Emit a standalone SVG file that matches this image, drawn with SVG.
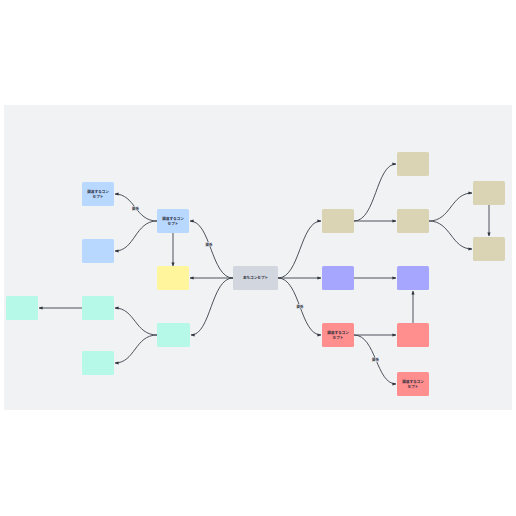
<svg xmlns="http://www.w3.org/2000/svg" width="516" height="516" viewBox="0 0 516 516">
<defs>
<marker id="ah" viewBox="0 0 10 10" refX="9" refY="5" markerWidth="4" markerHeight="4" orient="auto" markerUnits="userSpaceOnUse">
<path d="M0,1 L10,5 L0,9 Z" fill="#2d333d"/>
</marker>
<style>
.n{rx:1.5;}
.t{font-family:"Noto Sans CJK JP","Noto Sans",sans-serif;font-size:3.6px;fill:#1f2937;text-anchor:middle;font-weight:bold;}
.c{fill:none;stroke:#3a404a;stroke-width:0.9;marker-end:url(#ah);}
.lb{fill:#f1f2f4;}
.lt{font-family:"Noto Sans CJK JP","Noto Sans",sans-serif;font-size:3.4px;fill:#1f2937;text-anchor:middle;font-weight:bold;}
.blue{fill:#b9d8ff;}
.yel{fill:#fff59d;}
.cy{fill:#b6f9e9;}
.tan{fill:#dad4b5;}
.pur{fill:#a7a6ff;}
.red{fill:#ff8e8e;}
.gray{fill:#d2d6de;}
</style>
</defs>
<rect x="0" y="0" width="516" height="516" fill="#ffffff"/>
<rect x="4" y="105" width="508" height="305" fill="#f1f2f4"/>
<g id="connectors">
<path class="c" d="M233,278 L190,278"/>
<path class="c" d="M233,278 C211,278 211,221 190,221"/>
<path class="c" d="M233,278 C211,278 211,335 191,335"/>
<path class="c" d="M173,233 L173,266"/>
<path class="c" d="M157,221 C135,221 135,194 115,194"/>
<path class="c" d="M157,221 C135,221 135,251 115,251"/>
<path class="c" d="M157,335 C135,335 135,308 115,308"/>
<path class="c" d="M157,335 C135,335 135,363 115,363"/>
<path class="c" d="M82,308 L39,308"/>
<path class="c" d="M278,278 C300,278 300,221 321,221"/>
<path class="c" d="M278,278 L321,278"/>
<path class="c" d="M278,278 C300,278 300,335 321,335"/>
<path class="c" d="M354,221 C376,221 376,164 396,164"/>
<path class="c" d="M354,221 L396,221"/>
<path class="c" d="M429,221 C451,221 451,193 472,193"/>
<path class="c" d="M429,221 C451,221 451,249 472,249"/>
<path class="c" d="M489,205 L489,236"/>
<path class="c" d="M354,278 L396,278"/>
<path class="c" d="M413,323 L413,291"/>
<path class="c" d="M354,335 L396,335"/>
<path class="c" d="M354,335 C376,335 376,384 396,384"/>
<g id="edge-labels">
<rect class="lb" x="131.5" y="206" width="8" height="4.5"/>
<text class="lt" x="135.5" y="209.5">関係</text>
<rect class="lb" x="205" y="242" width="8" height="4.5"/>
<text class="lt" x="209" y="245.5">関係</text>
<rect class="lb" x="296" y="304" width="8" height="4.5"/>
<text class="lt" x="300" y="307.5">関係</text>
<rect class="lb" x="371.5" y="357.5" width="8" height="4.5"/>
<text class="lt" x="375.5" y="361">関係</text>
</g>
</g>
<g id="main"><rect class="gray" x="233" y="266" width="45" height="24" rx="1.5"/><text class="t" x="255.5" y="279.3">主なコンセプト</text></g>
<g id="blue1"><rect class="blue" x="157" y="209" width="32" height="24" rx="1.5"/><text class="t" x="173" y="219.5">関連するコン</text><text class="t" x="173" y="224.5">セプト</text></g>
<g id="blue2"><rect class="blue" x="82" y="182" width="32" height="24" rx="1.5"/><text class="t" x="98" y="192.5">関連するコン</text><text class="t" x="98" y="197.5">セプト</text></g>
<g id="blue3"><rect class="blue" x="82" y="239" width="32" height="24" rx="1.5"/></g>
<g id="yellow1"><rect class="yel" x="157" y="266" width="32" height="24" rx="1.5"/></g>
<g id="cyan1"><rect class="cy" x="157" y="323" width="33" height="24" rx="1.5"/></g>
<g id="cyan2"><rect class="cy" x="82" y="296" width="32" height="24" rx="1.5"/></g>
<g id="cyan3"><rect class="cy" x="82" y="351" width="32" height="24" rx="1.5"/></g>
<g id="cyan4"><rect class="cy" x="6" y="296" width="32" height="24" rx="1.5"/></g>
<g id="tan1"><rect class="tan" x="322" y="209" width="32" height="24" rx="1.5"/></g>
<g id="tan2"><rect class="tan" x="397" y="152" width="32" height="24" rx="1.5"/></g>
<g id="tan3"><rect class="tan" x="397" y="209" width="32" height="24" rx="1.5"/></g>
<g id="tan4"><rect class="tan" x="473" y="181" width="32" height="24" rx="1.5"/></g>
<g id="tan5"><rect class="tan" x="473" y="237" width="32" height="24" rx="1.5"/></g>
<g id="purple1"><rect class="pur" x="322" y="266" width="32" height="24" rx="1.5"/></g>
<g id="purple2"><rect class="pur" x="397" y="266" width="32" height="24" rx="1.5"/></g>
<g id="red1"><rect class="red" x="322" y="323" width="32" height="24" rx="1.5"/><text class="t" x="338" y="333.5">関連するコン</text><text class="t" x="338" y="338.5">セプト</text></g>
<g id="red2"><rect class="red" x="397" y="323" width="32" height="24" rx="1.5"/></g>
<g id="red3"><rect class="red" x="397" y="372" width="32" height="24" rx="1.5"/><text class="t" x="413" y="382.5">関連するコン</text><text class="t" x="413" y="387.5">セプト</text></g>
</svg>
